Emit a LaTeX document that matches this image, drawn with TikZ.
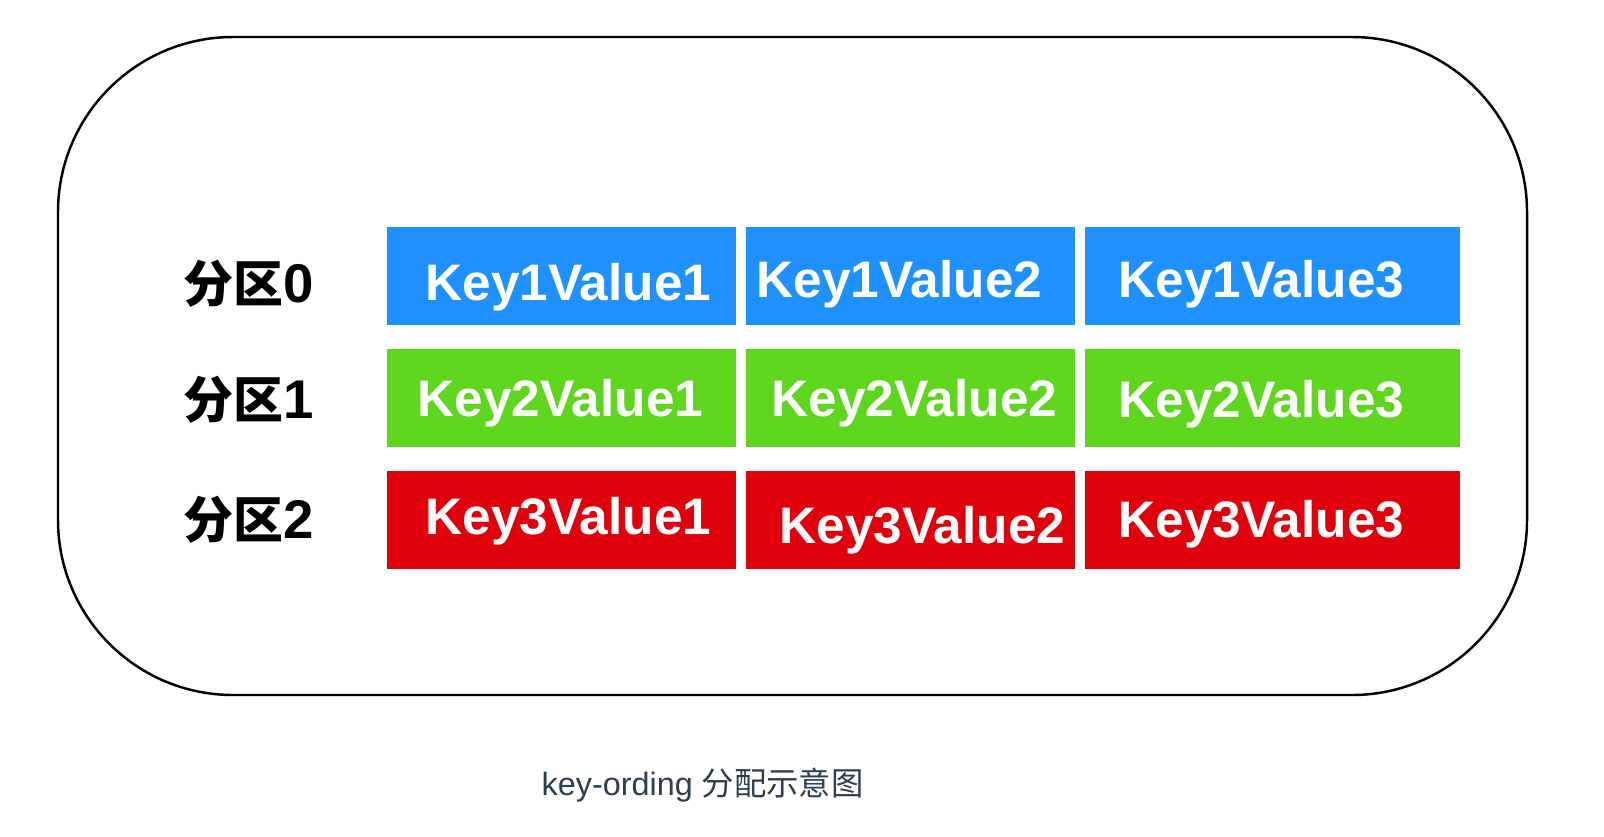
\documentclass[tikz,border=0pt]{standalone}
\usepackage{fontspec}
\setmainfont{Liberation Sans}
\newfontfamily\cjk{Noto Sans CJK SC}
\usepackage{xcolor}
\usetikzlibrary{positioning}

\definecolor{keyblue}{RGB}{30,144,255}
\definecolor{keygreen}{RGB}{93,214,29}
\definecolor{keyred}{RGB}{224,0,11}
\definecolor{captxt}{RGB}{44,62,80}

\begin{document}
\begin{tikzpicture}[
  x=0.01cm, y=-0.01cm,
  %--- style definitions ---
  cell/.style      = {rectangle, fill=#1, draw=none, inner sep=0pt, outer sep=0pt,
                      minimum height=0.98cm},
  keytext/.style   = {anchor=base west, inner sep=0pt, text=white,
                      font=\fontsize{14.6}{17}\selectfont\bfseries},
  partlabel/.style = {anchor=base west, inner sep=0pt, text=black,
                      font=\fontsize{14.2}{17}\selectfont\bfseries},
  caption/.style   = {anchor=base west, inner sep=0pt, text=captxt,
                      font=\fontsize{9.2}{11}\selectfont},
  frame/.style     = {draw=black, line width=0.7pt, rounded corners=1.75cm},
]
\useasboundingbox (0,0) rectangle (1604,836);

%% -- outer frame --
\draw[frame] (58,37) rectangle (1527,695);

%% -- row 0 : blue --
\node[cell=keyblue, minimum width=3.49cm, anchor=north west] (c00) at (387,227) {};
\node[cell=keyblue, minimum width=3.29cm, right=0.1cm of c00] (c01) {};
\node[cell=keyblue, minimum width=3.74cm, right=0.1cm of c01] (c02) {};

%% -- row 1 : green --
\node[cell=keygreen, minimum width=3.49cm, below=0.24cm of c00] (c10) {};
\node[cell=keygreen, minimum width=3.29cm, right=0.1cm of c10]  (c11) {};
\node[cell=keygreen, minimum width=3.74cm, right=0.1cm of c11]  (c12) {};

%% -- row 2 : red --
\node[cell=keyred, minimum width=3.49cm, below=0.24cm of c10] (c20) {};
\node[cell=keyred, minimum width=3.29cm, right=0.1cm of c20]  (c21) {};
\node[cell=keyred, minimum width=3.74cm, right=0.1cm of c21]  (c22) {};

%% -- cell texts --
\node[keytext] (t00) at (425,300)  {Key1Value1};
\node[keytext] (t01) at (756,297)  {Key1Value2};
\node[keytext] (t02) at (1118,297) {Key1Value3};
\node[keytext] (t10) at (417,416)  {Key2Value1};
\node[keytext] (t11) at (771,416)  {Key2Value2};
\node[keytext] (t12) at (1118,417) {Key2Value3};
\node[keytext] (t20) at (425,534)  {Key3Value1};
\node[keytext] (t21) at (779,543)  {Key3Value2};
\node[keytext] (t22) at (1118,537) {Key3Value3};

%% -- partition labels --
\node[partlabel] (p0) at (183,302) {{\cjk 分区}\fontsize{15.5}{17}\selectfont 0};
\node[partlabel] (p1) at (183,418) {{\cjk 分区}\fontsize{15.5}{17}\selectfont 1};
\node[partlabel] (p2) at (183,538) {{\cjk 分区}\fontsize{15.5}{17}\selectfont 2};

%% -- caption --
\node[caption] (cap) at (541,795) {key-ording {\cjk 分配示意图}};

\end{tikzpicture}
\end{document}
